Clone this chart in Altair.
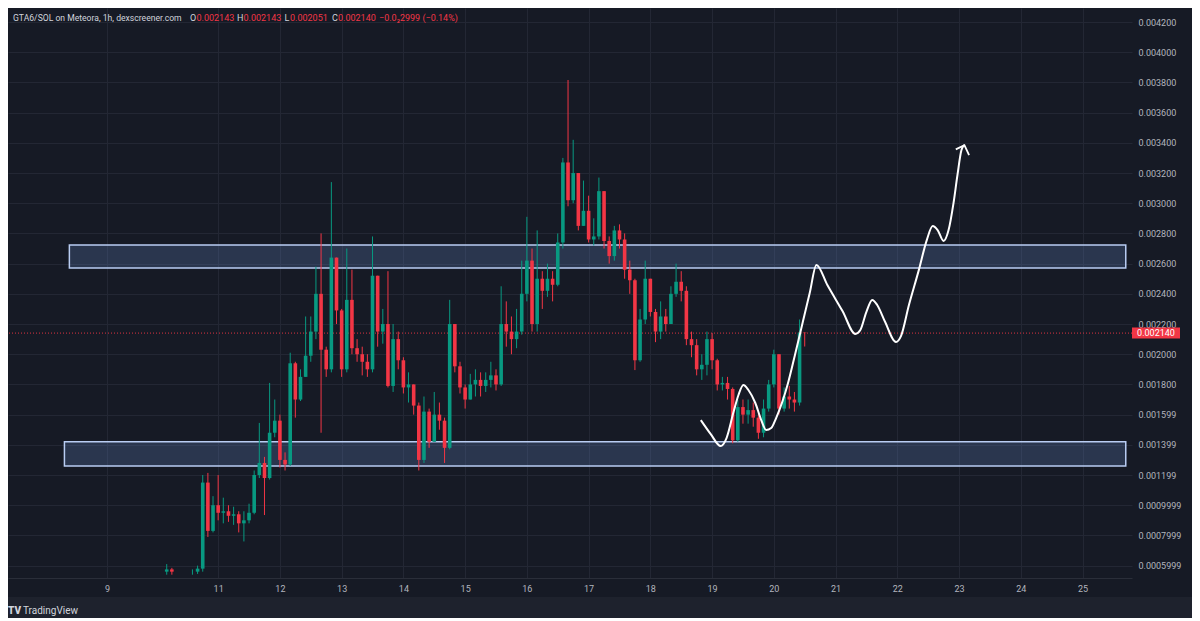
import altair as alt
import pandas as pd

# ---------------- data (prices in units of 1e-6 SOL) ----------------
hours = [4, 6] + list(range(14, 253, 2))  # hours since day 10 00:00, 2h candles

closes = [575, 560, 560, 580, 1150, 830, 1000, 950, 960, 930,
          940, 880, 900, 950, 1200, 1280, 1180, 1480, 1560, 1300,
          1270, 1940, 1700, 1850, 1990, 2150, 2400, 2030, 1900, 2640,
          2290, 1900, 2360, 2040, 2000, 1950, 1900, 2520, 2150, 2200,
          1790, 2100, 1960, 1780, 1800, 1660, 1300, 1620, 1420, 1600,
          1560, 1380, 2200, 1920, 1780, 1700, 1800, 1830, 1790, 1830,
          1860, 1800, 2200, 2150, 2100, 2150, 2400, 2620, 2200, 2500,
          2420, 2500, 2460, 2740, 3270, 3020, 3200, 2850, 2950, 2760,
          2780, 3080, 2750, 2650, 2820, 2760, 2560, 2490, 1960, 2230,
          2500, 2280, 2150, 2250, 2200, 2400, 2480, 2420, 2100, 2060,
          1900, 1930, 2100, 1960, 1800, 1810, 1770, 1430, 1650, 1600,
          1630, 1580, 1480, 1640, 1800, 2000, 1640, 1720, 1700, 1680,
          2143, 2140]
highs = [610, 585, 575, 600, 1200, 1214, 1060, 1200, 1050, 1000,
         990, 960, 960, 1010, 1230, 1545, 1320, 1810, 1700, 1600,
         1350, 2010, 1950, 1900, 2250, 2250, 2580, 2800, 2050, 3140,
         2640, 2300, 2700, 2560, 2100, 2050, 2000, 2780, 2520, 2300,
         2550, 2200, 2150, 1980, 1880, 1800, 1680, 1720, 1640, 1750,
         1680, 1580, 2360, 2200, 1950, 1800, 1870, 1900, 1880, 1880,
         1950, 1900, 2450, 2350, 2250, 2300, 2620, 2910, 2700, 2820,
         2550, 2600, 2550, 2800, 3300, 3816, 3420, 3200, 3150, 3050,
         2900, 3170, 3080, 2780, 2850, 2860, 2800, 2620, 2500, 2300,
         2620, 2500, 2300, 2350, 2300, 2450, 2600, 2550, 2450, 2150,
         2100, 2000, 2150, 2140, 1970, 1850, 1850, 1780, 1700, 1700,
         1700, 1680, 1620, 1700, 1830, 2030, 2000, 1780, 1790, 1750,
         2230, 2143]
lows = [540, 540, 540, 545, 560, 790, 820, 900, 880, 890,
        870, 820, 760, 880, 940, 1180, 935, 1170, 1450, 1250,
        1230, 1260, 1580, 1690, 1850, 1950, 2100, 1480, 1850, 1880,
        2200, 1850, 1880, 2000, 1950, 1860, 1850, 1880, 2050, 2070,
        1780, 1750, 1900, 1740, 1680, 1600, 1230, 1280, 1380, 1420,
        1500, 1280, 1370, 1880, 1740, 1640, 1700, 1720, 1720, 1750,
        1780, 1760, 1790, 2050, 2000, 2040, 2130, 2350, 2150, 2150,
        2300, 2380, 2350, 2450, 2700, 2980, 3000, 2820, 2850, 2740,
        2720, 2760, 2700, 2600, 2620, 2700, 2500, 2400, 1895, 1950,
        2200, 2250, 2080, 2100, 2150, 2200, 2380, 2350, 2060, 1980,
        1860, 1830, 1860, 1900, 1760, 1760, 1700, 1410, 1420, 1540,
        1540, 1520, 1440, 1450, 1620, 1780, 1600, 1620, 1640, 1620,
        1660, 2051]
first_open = 560

# support / resistance zones (start day, low, high)
zone_start = [8.51, 8.59]
zone_low = [1260, 2571]
zone_high = [1420, 2723]

last_price = 2140

# hand-drawn projection path (day, price)
path_day = [18.817, 18.978, 19.138, 19.234, 19.347, 19.427, 19.507, 19.588, 19.700, 19.796,
            19.876, 19.957, 20.037, 20.230, 20.342, 20.469, 20.581, 20.690, 20.867, 21.112,
            21.321, 21.401, 21.498, 21.594, 21.674, 21.803, 21.979, 22.059, 22.188, 22.348,
            22.477, 22.573, 22.653, 22.750, 22.830, 22.910, 22.974, 23.039, 23.087]
path_price = [1564, 1471, 1392, 1445, 1617, 1730, 1796, 1763, 1677, 1564,
              1498, 1511, 1577, 1809, 1995, 2213, 2405, 2591, 2458, 2286,
              2134, 2160, 2279, 2359, 2326, 2213, 2081, 2120, 2326, 2557,
              2756, 2849, 2822, 2750, 2822, 3001, 3187, 3352, 3385]
head_day = [22.947, 23.087, 23.162]
head_price = [3357, 3385, 3319]

y_ticks = [600, 800, 1000, 1200, 1400, 1600, 1800, 2000, 2200, 2400, 2600, 2800,
           3000, 3200, 3400, 3600, 3800, 4000, 4200]
y_labels = ["0.0005999", "0.0007999", "0.0009999", "0.001199", "0.001399", "0.001599",
            "0.001800", "0.002000", "0.002200", "0.002400", "0.002600", "0.002800",
            "0.003000", "0.003200", "0.003400", "0.003600", "0.003800", "0.004000", "0.004200"]
x_ticks = [9.2, 11, 12, 13, 14, 15, 16, 17, 18, 19, 20, 21, 22, 23, 24, 25]
x_labels = ["9", "11", "12", "13", "14", "15", "16", "17", "18", "19", "20", "21",
            "22", "23", "24", "25"]

header = [("GTA6/SOL on Meteora, 1h, dexscreener.com", "#d1d4dc", 5, 8.6),
          ("O", "#d1d4dc", 182, 9), ("0.002143", "#f23645", 188.5, 9),
          ("H", "#d1d4dc", 229, 9), ("0.002143", "#f23645", 235.5, 9),
          ("L", "#d1d4dc", 276.5, 9), ("0.002051", "#f23645", 282, 9),
          ("C", "#d1d4dc", 324, 9), ("0.002140", "#f23645", 330, 9),
          ("\u22120.0\u20822999 (\u22120.14%)", "#f23645", 371, 9)]

# ---------------- build tables ----------------
U = 1e-6
opens = [first_open] + closes[:-1]
rows = []
for h, o, hi, lo, c in zip(hours, opens, highs, lows, closes):
    rows.append({
        "day": 10 + h / 24.0,
        "open": o * U, "close": c * U,
        "high": max(hi, o, c) * U, "low": min(lo, o, c) * U,
        "dir": "up" if c >= o else "down",
    })
candles = pd.DataFrame(rows)

XMIN, XMAX = 7.677, 25.72
YMIN, YMAX = 0.000518, 0.004293
zones = pd.DataFrame({"x1": zone_start, "x2": [XMAX - 0.02] * len(zone_start),
                      "lo": [v * U for v in zone_low], "hi": [v * U for v in zone_high]})
path = pd.DataFrame({"day": path_day, "price": [v * U for v in path_price],
                     "o": list(range(len(path_day)))})
head = pd.DataFrame({"day": head_day, "price": [v * U for v in head_price],
                     "o": list(range(len(head_day)))})
last = pd.DataFrame({"price": [last_price * U], "label": ["0.002140"]})
one = pd.DataFrame({"a": [0]})


def label_expr(values, labels, tol):
    expr = "''"
    for v, l in reversed(list(zip(values, labels))):
        expr = f"abs(datum.value - {v}) < {tol} ? '{l}' : " + expr
    return expr


W, H = 1124, 570
BG = "#161a25"
GRID = "#232734"
UP, DOWN = "#089981", "#f23645"
FONT = "Roboto"

xscale = alt.Scale(domain=[XMIN, XMAX], nice=False, zero=False)
yscale = alt.Scale(domain=[YMIN, YMAX], nice=False, zero=False)

xaxis = alt.Axis(values=x_ticks, labelExpr=label_expr(x_ticks, x_labels, 1e-6),
                 grid=True, gridColor=GRID, ticks=False, domain=True, domainColor="#2a2e39",
                 labelPadding=6, title=None, labelFlush=False)
yaxis = alt.Axis(orient="right", values=[v * U for v in y_ticks],
                 labelExpr=label_expr([v * U for v in y_ticks], y_labels, 1e-9),
                 grid=True, gridColor=GRID, ticks=False, domain=False,
                 labelPadding=6, title=None, labelFlush=False)

X = alt.X("day:Q", scale=xscale, axis=xaxis)
Y = alt.Y("price:Q", scale=yscale, axis=yaxis)

footer = alt.Chart(one).mark_rect(color="#1e222d").encode(
    x=alt.value(0), x2=alt.value(W + 60), y=alt.value(H + 19), y2=alt.value(H + 45))

zone_layer = alt.Chart(zones).mark_rect(
    fill="#5a78b0", fillOpacity=0.3, stroke="#b9cdf3", strokeWidth=1.5
).encode(
    x=alt.X("x1:Q", scale=xscale, axis=xaxis), x2="x2:Q",
    y=alt.Y("lo:Q", scale=yscale, axis=yaxis), y2="hi:Q")

price_line = alt.Chart(last).mark_rule(color="#f23645", strokeDash=[1, 2], strokeWidth=1,
                                       opacity=0.9).encode(y=Y)

color = alt.Color("dir:N", scale=alt.Scale(domain=["up", "down"], range=[UP, DOWN]),
                  legend=None)
wicks = alt.Chart(candles).mark_rule(strokeWidth=1).encode(
    x=X, y=alt.Y("low:Q", scale=yscale, axis=yaxis), y2="high:Q", color=color)
bodies = alt.Chart(candles).mark_bar(size=3.6).encode(
    x=X, y=alt.Y("open:Q", scale=yscale, axis=yaxis), y2="close:Q", color=color)

proj = alt.Chart(path).mark_line(color="white", strokeWidth=2, interpolate="monotone").encode(
    x=X, y=Y, order="o:Q")
arrow = alt.Chart(head).mark_line(color="white", strokeWidth=1.8).encode(
    x=X, y=Y, order="o:Q")

texts = []
for t, c, px, fs in header:
    texts.append(alt.Chart(one).mark_text(
        text=t, color=c, align="left", baseline="middle", font=FONT, fontSize=fs
    ).encode(x=alt.value(px), y=alt.value(9.5)))

tag_rect = alt.Chart(last).mark_rect(color="#f23645", yOffset=-5.5, y2Offset=5.5).encode(
    y=Y, y2="price:Q", x=alt.value(W), x2=alt.value(W + 48))
tag_text = alt.Chart(last).mark_text(color="white", font=FONT, fontSize=9, align="center",
                                     baseline="middle").encode(
    y=Y, x=alt.value(W + 24), text="label:N")

logo = alt.Chart(one).mark_text(text="TV", color="#d1d4dc", font=FONT, fontSize=10,
                                fontWeight=900, align="left", baseline="middle").encode(
    x=alt.value(0), y=alt.value(H + 33))
brand = alt.Chart(one).mark_text(text="TradingView", color="#d1d4dc", font=FONT, fontSize=10,
                                 align="left", baseline="middle").encode(
    x=alt.value(15), y=alt.value(H + 33))

chart = alt.layer(
    footer, zone_layer, price_line, wicks, bodies, proj, arrow, *texts, tag_rect, tag_text,
    logo, brand
).properties(
    width=W, height=H, background=BG,
    autosize=alt.AutoSizeParams(type="none"),
    padding={"left": 0, "top": 0, "right": 60, "bottom": 40},
).configure_axis(
    labelFont=FONT, labelFontSize=9, labelColor="#b2b5be"
).configure_view(strokeWidth=0, fill=BG)

chart.save("out.html", embed_options={"renderer": "svg", "actions": False})
